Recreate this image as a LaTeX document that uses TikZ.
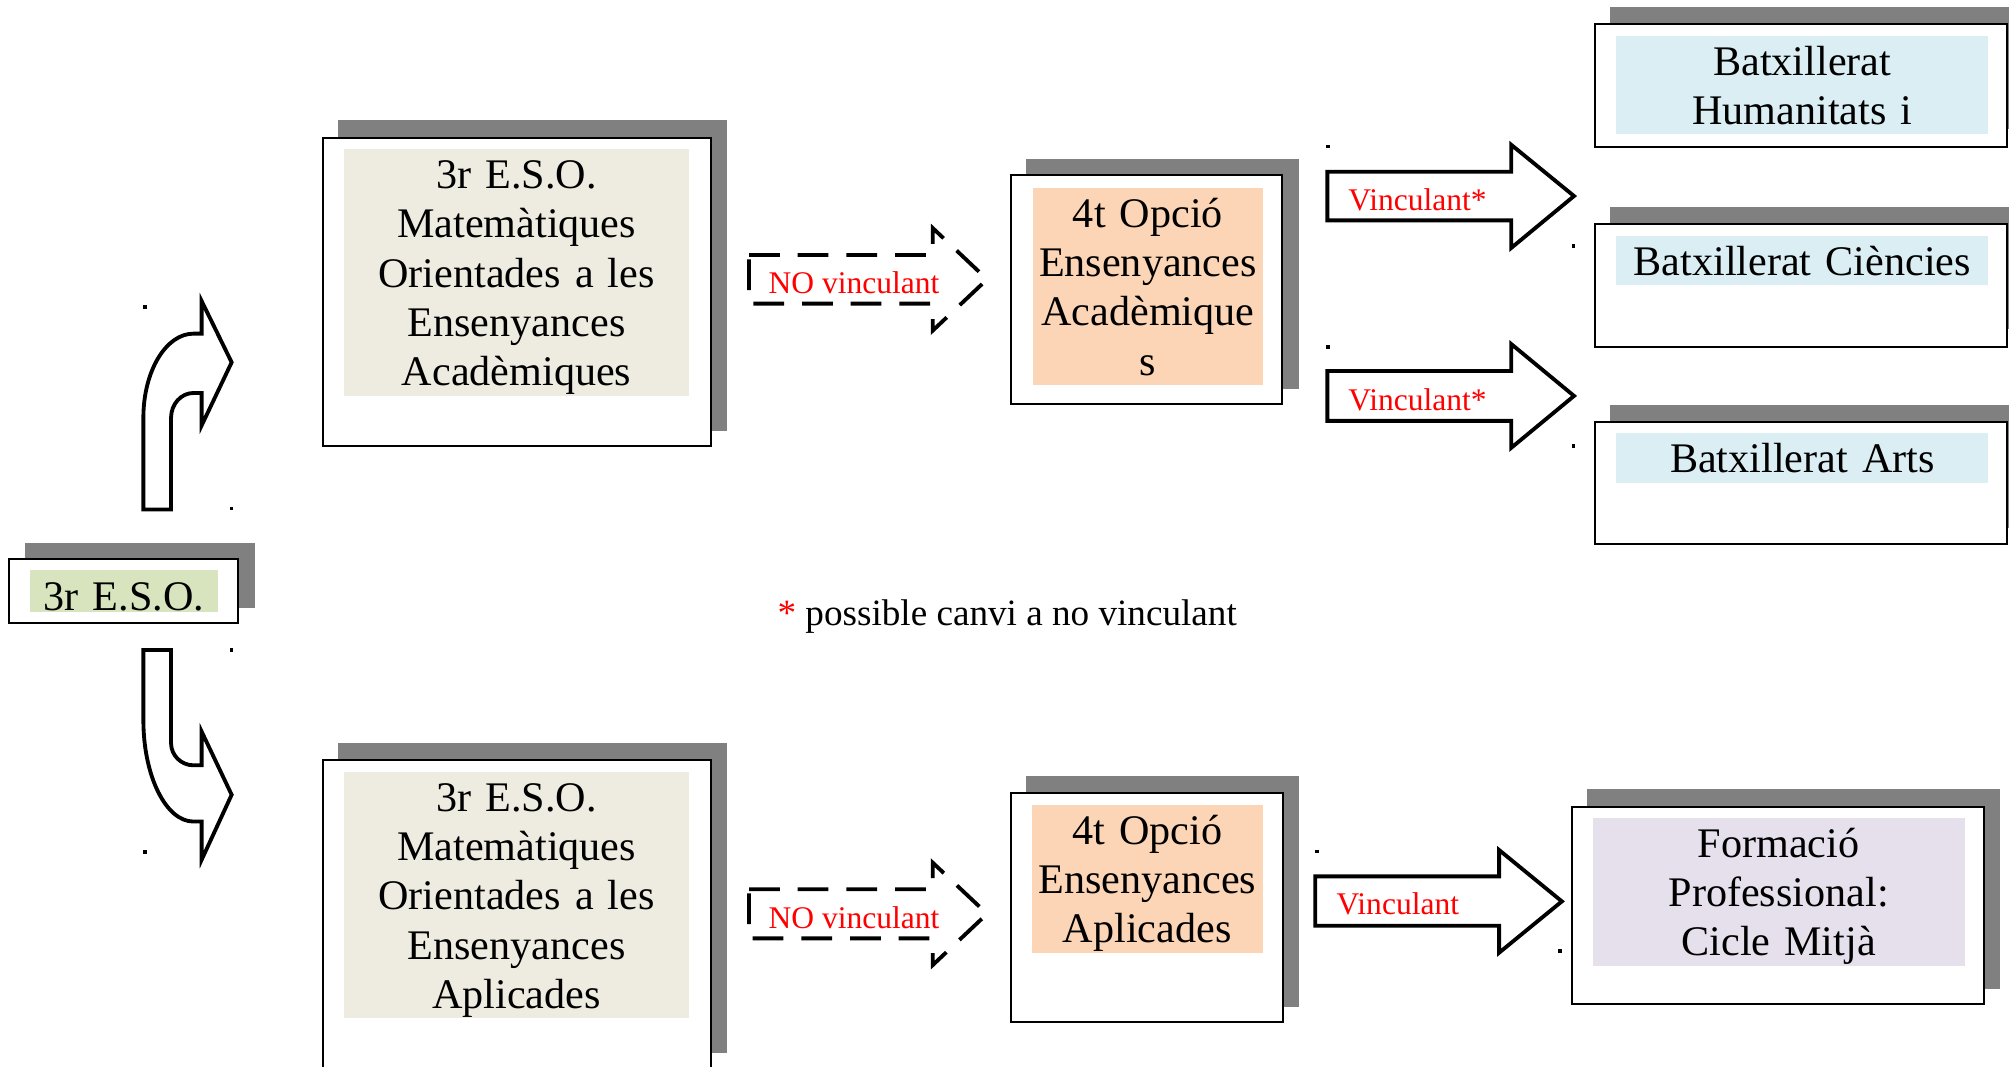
\documentclass[tikz,border=0pt]{standalone}
\usepackage{fontspec}
\setmainfont{Liberation Serif}
\definecolor{shadowgray}{HTML}{808080}
\definecolor{greenfill}{HTML}{D7E4BD}
\definecolor{tanfill}{HTML}{EEECE1}
\definecolor{orangefill}{HTML}{FBD5B5}
\definecolor{bluefill}{HTML}{DAEEF3}
\definecolor{purplefill}{HTML}{E5E0EC}
\definecolor{labelred}{HTML}{FF0000}
\newcommand{\lstrut}{\rule[-3.75pt]{0pt}{19.25pt}}
\newcommand{\sstrut}{\rule[-0.75pt]{0pt}{16.45pt}}
\tikzset{
  shadowbox/.style={fill=shadowgray, draw=none},
  whitebox/.style={fill=white, draw=black, line width=0.8pt},
  boxtext/.style={inner sep=0pt, anchor=north west, align=center,
    font=\fontsize{16.45pt}{19.25pt}\selectfont},
  blockarrow/.style={draw=black, line width=1.5pt, fill=white, miter limit=10},
  dashedarrow/.style={draw=black, line width=1.5pt, fill=white, dash pattern=on 12pt off 7pt},
  redlabel/.style={text=labelred, font=\fontsize{12.3pt}{14pt}\selectfont, inner sep=0pt, anchor=base west},
  notetext/.style={font=\fontsize{14.5pt}{17pt}\selectfont, inner sep=0pt, anchor=base west},
  dotmark/.style={fill=black}
}
\begin{document}
\begin{tikzpicture}[x=0.5pt,y=-0.5pt]
\useasboundingbox (0,0) rectangle (1568,832);
\clip (0,0) rectangle (1568,832);

% ---- small box 3r E.S.O.
\path[shadowbox] (19.5,423.8) rectangle (199,474.6);
\path[whitebox] (7.3,436.6) rectangle (186,486.5);
\node[boxtext, fill=greenfill, text width=73pt] (eso) at (23.4,444.6) {\sstrut 3r E.S.O.};

% ---- bent arrows
\draw[blockarrow] (111.9,397.7) -- (111.9,326)
  .. controls (111.9,289.7) and (129.5,260.4) .. (151,260.4)
  -- (157.4,260.4) -- (157.4,235) -- (180.8,282.8) -- (157.4,332) -- (157.4,306.7) -- (151,306.7)
  .. controls (141.4,306.7) and (133.5,315.4) .. (133.5,326)
  -- (133.5,397.7) -- cycle;
\draw[blockarrow] (111.9,507.3) -- (133.5,507.3) -- (133.5,580)
  .. controls (133.5,589.5) and (141.4,597.3) .. (151,597.3)
  -- (157.4,597.3) -- (157.4,571) -- (180.8,620.3) -- (157.4,671) -- (157.4,641.2) -- (151,641.2)
  .. controls (129.5,641.2) and (111.9,605.6) .. (111.9,562) -- cycle;

% ---- 3r ESO Academiques
\path[shadowbox] (263.9,93.7) rectangle (567.4,336.4);
\path[whitebox] (252,107.5) rectangle (554.7,347.8);
\node[boxtext, fill=tanfill, text width=134.8pt] (acad3) at (268,115.8)
  {\lstrut 3r E.S.O.\\\lstrut Matemàtiques\\\lstrut Orientades a les\\\lstrut Ensenyances\\\lstrut Acadèmiques};

% ---- 3r ESO Aplicades
\path[shadowbox] (263.9,580) rectangle (567.4,822);
\path[whitebox] (252,593) rectangle (554.7,860);
\node[boxtext, fill=tanfill, text width=134.8pt] (apl3) at (268,601.8)
  {\lstrut 3r E.S.O.\\\lstrut Matemàtiques\\\lstrut Orientades a les\\\lstrut Ensenyances\\\lstrut Aplicades};

% ---- 4t Academiques
\path[shadowbox] (801,124) rectangle (1013.5,303.6);
\path[whitebox] (789,136.6) rectangle (1000.6,315.5);
\node[boxtext, fill=orangefill, text width=89.5pt] (acad4) at (806,146)
  {\lstrut 4t Opció\\\lstrut Ensenyances\\\lstrut Acadèmique\\\lstrut s};

% ---- 4t Aplicades
\path[shadowbox] (801,605.7) rectangle (1014,785.7);
\path[whitebox] (789,618.7) rectangle (1001,797.7);
\node[boxtext, fill=orangefill, text width=90pt] (apl4) at (805,627.5)
  {\lstrut 4t Opció\\\lstrut Ensenyances\\\lstrut Aplicades};

% ---- Batxillerat boxes
\path[shadowbox] (1256.6,5.2) rectangle (1590,101);
\path[whitebox] (1245,18.7) rectangle (1566.5,114.5);
\node[boxtext, fill=bluefill, text width=145.25pt] (hum) at (1261,27.3)
  {\lstrut Batxillerat\\\lstrut Humanitats i};

\path[shadowbox] (1256.6,161.7) rectangle (1590,257);
\path[whitebox] (1245,175) rectangle (1566.5,270.6);
\node[boxtext, fill=bluefill, text width=145.25pt] (cie) at (1261,183.4)
  {\lstrut Batxillerat Ciències};

\path[shadowbox] (1256.6,316) rectangle (1590,412);
\path[whitebox] (1245,329) rectangle (1566.5,424.7);
\node[boxtext, fill=bluefill, text width=145.25pt] (art) at (1261,337.7)
  {\lstrut Batxillerat Arts};

% ---- Formacio Professional
\path[shadowbox] (1238.6,615.8) rectangle (1561,772);
\path[whitebox] (1227,629.6) rectangle (1548.6,783.7);
\node[boxtext, fill=purplefill, text width=145.2pt] (fp) at (1242.6,637.7)
  {\lstrut Formació\\\lstrut Professional:\\\lstrut Cicle Mitjà};

% ---- dashed NO vinculant arrows
\draw[dashedarrow] (584.6,199) -- (728,199) -- (728,178) -- (770.4,218) -- (728,258) -- (728,237) -- (584.6,237) -- cycle;
\node[redlabel] (nov1) at (599.5,229) {NO vinculant};
\draw[dashedarrow] (584.6,694) -- (728,694) -- (728,673.3) -- (770.4,713.2) -- (728,753.2) -- (728,732.4) -- (584.6,732.4) -- cycle;
\node[redlabel] (nov2) at (599.5,724.5) {NO vinculant};

% ---- Vinculant arrows
\draw[blockarrow] (1036,134) -- (1179.5,134) -- (1179.5,113) -- (1228.5,153) -- (1179.5,193.5) -- (1179.5,172) -- (1036,172) -- cycle;
\node[redlabel] (v1) at (1052,164) {Vinculant*};
\draw[blockarrow] (1036,289.5) -- (1179.5,289.5) -- (1179.5,268.5) -- (1228.5,309) -- (1179.5,349.5) -- (1179.5,328.5) -- (1036,328.5) -- cycle;
\node[redlabel] (v2) at (1052,320) {Vinculant*};
\draw[blockarrow] (1026.5,684) -- (1170,684) -- (1170,663.4) -- (1219,703.5) -- (1170,743.6) -- (1170,722.5) -- (1026.5,722.5) -- cycle;
\node[redlabel] (v3) at (1042.8,714) {Vinculant};

% ---- note
\node[notetext] (note) at (606.5,487.8) {\textcolor{labelred}{*} possible canvi a no vinculant};

% ---- small dots
\foreach \px/\py in {113.2/239.5, 180.8/396.9, 180.8/507.3, 113.2/665, 1036.5/114.3, 1228/191.8, 1036.5/270.6, 1228/347.9, 1028/664.7, 1217.6/742}
  \fill[dotmark] (\px-1.4,\py-1.4) rectangle (\px+1.4,\py+1.4);
\end{tikzpicture}
\end{document}
